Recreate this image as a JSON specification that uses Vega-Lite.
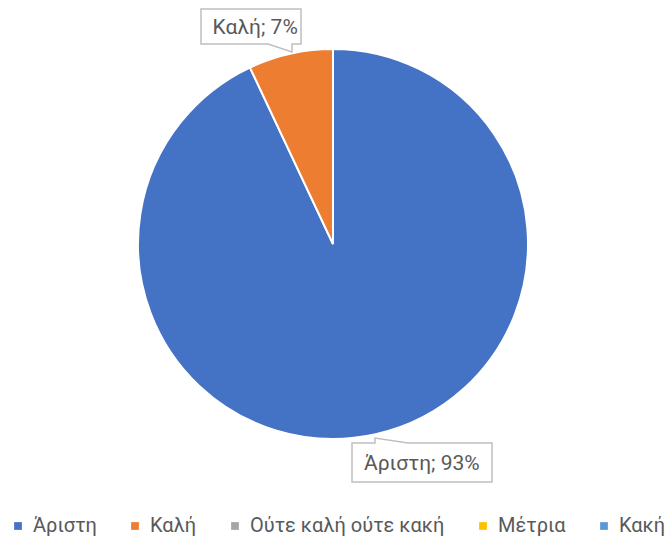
{
  "$schema": "https://vega.github.io/schema/vega-lite/v6.json",
  "width": 666,
  "height": 488,
  "padding": {"left": 0, "top": 0, "right": 0, "bottom": 0},
  "background": "white",
  "config": {"view": {"stroke": null}, "font": "Roboto"},
  "data": {
    "values": [
      {"cat": "Άριστη", "value": 93, "label": "Άριστη; 93%"},
      {"cat": "Καλή", "value": 7, "label": "Καλή; 7%"}
    ]
  },
  "layer": [
    {
      "mark": {"type": "arc", "radius": 195, "stroke": "white", "strokeWidth": 2},
      "encoding": {
        "theta": {"field": "value", "type": "quantitative", "stack": true},
        "color": {
          "field": "cat",
          "type": "nominal",
          "scale": {
            "domain": ["Άριστη", "Καλή", "Ούτε καλή ούτε κακή", "Μέτρια", "Κακή"],
            "range": ["#4472C4", "#ED7D31", "#A5A5A5", "#FFC000", "#5B9BD5"]
          },
          "legend": {
            "orient": "bottom",
            "direction": "horizontal",
            "title": null,
            "padding": 8,
            "symbolType": "square",
            "symbolSize": 60,
            "symbolStrokeWidth": 0,
            "labelFont": "Roboto",
            "labelFontSize": 20,
            "labelColor": "#595959",
            "labelLimit": 400,
            "columnPadding": 28,
            "labelOffset": 5,
            "offset": 20
          }
        }
      }
    },
    {
      "transform": [{"filter": "datum.cat === 'Καλή'"}],
      "mark": {
        "type": "point",
        "shape": "M-132,-235H-32V-200H-41V-192L-65,-200H-132Z",
        "size": 4,
        "filled": true,
        "fill": "white",
        "stroke": "#BFBFBF",
        "strokeWidth": 1.5,
        "opacity": 1
      },
      "encoding": {}
    },
    {
      "transform": [{"filter": "datum.cat === 'Άριστη'"}],
      "mark": {
        "type": "point",
        "shape": "M19,199H42V194L75,199H159V238H19Z",
        "size": 4,
        "filled": true,
        "fill": "white",
        "stroke": "#BFBFBF",
        "strokeWidth": 1.5,
        "opacity": 1
      },
      "encoding": {}
    },
    {
      "mark": {"type": "text", "radius": 224, "dx": -29, "dy": 3, "font": "Roboto", "fontSize": 21, "fill": "#595959"},
      "encoding": {
        "theta": {"field": "value", "type": "quantitative", "stack": true},
        "detail": {"field": "cat", "type": "nominal"},
        "text": {"condition": {"test": "datum.cat === 'Καλή'", "field": "label"}, "value": ""}
      }
    },
    {
      "mark": {"type": "text", "radius": 224, "dx": 40, "dy": 1, "font": "Roboto", "fontSize": 21, "fill": "#595959"},
      "encoding": {
        "theta": {"field": "value", "type": "quantitative", "stack": true},
        "detail": {"field": "cat", "type": "nominal"},
        "text": {"condition": {"test": "datum.cat === 'Άριστη'", "field": "label"}, "value": ""}
      }
    }
  ]
}
